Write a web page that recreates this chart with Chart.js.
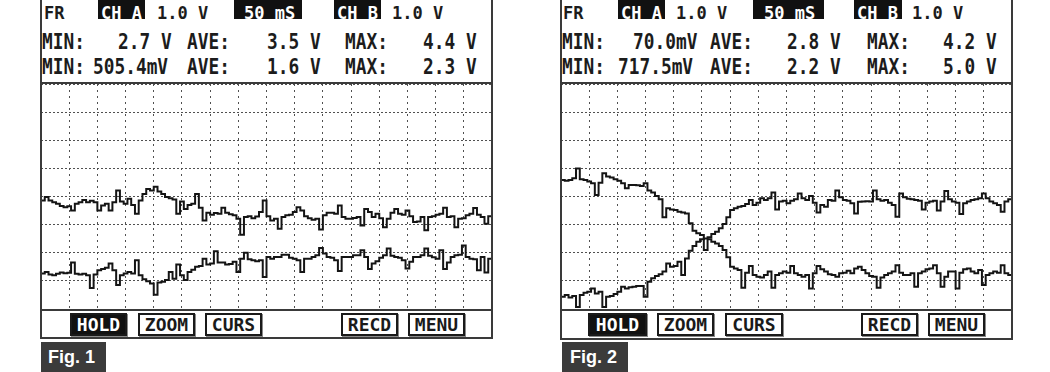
<!DOCTYPE html>
<html>
<head>
<meta charset="utf-8">
<script src="https://cdn.jsdelivr.net/npm/chart.js"></script>
<style>
  body { margin: 0; background: #fff; width: 1050px; height: 372px; position: relative; overflow: hidden; }
  canvas { position: absolute; }
  .ln { position: absolute; background: #3a3a3a; z-index: 2; }
  .t { position: absolute; white-space: pre; font-family: 'DejaVu Sans Mono', monospace; font-weight: bold; color: #1c1c1c; transform-origin: 0 0; }
  .r1 { font-size: 17px; line-height: 17px; top: 5px; }
  .r2 { font-size: 22px; line-height: 22px; top: 31px; transform: scaleX(.81); }
  .r3 { font-size: 22px; line-height: 22px; top: 56px; transform: scaleX(.81); }
  .w { color: #fff; }
  .box { position: absolute; top: 0; height: 19px; background: #111; }
  .btn { position: absolute; top: 313px; height: 23px; box-sizing: border-box; border: 2px solid #1a1a1a; box-shadow: 1px 1px 0 #8a8a8a;
         background: #fff; font-family: 'DejaVu Sans Mono', monospace; font-weight: bold; font-size: 18px; line-height: 19px; text-align: center; color: #1a1a1a; }
  .btn.on { background: #111; color: #fff; }
  .fig { position: absolute; top: 342px; height: 30px; background: #3b3b3b; }
  .fig span { position: absolute; top: 6px; font-family: 'Liberation Sans', Arial, sans-serif; font-weight: bold; font-size: 18px; line-height: 18px; color: #fff; }
</style>
</head>
<body>

<!-- Fig. 1 screen -->
<span class="t r1" style="left:44px">FR</span>
<div class="box" style="left:98px;width:47px"></div><span class="t r1 w" style="left:101px">CH A</span>
<span class="t r1" style="left:157px">1.0 V</span>
<div class="box" style="left:234px;width:68px"></div><span class="t r1 w" style="left:244px">50 mS</span>
<div class="box" style="left:334px;width:47px"></div><span class="t r1 w" style="left:337px">CH B</span>
<span class="t r1" style="left:392px">1.0 V</span>

<span class="t r2" style="left:42px">MIN:</span>
<span class="t r2" style="left:118px">2.7 V</span>
<span class="t r2" style="left:187px">AVE:</span>
<span class="t r2" style="left:267px">3.5 V</span>
<span class="t r2" style="left:345px">MAX:</span>
<span class="t r2" style="left:423px">4.4 V</span>

<span class="t r3" style="left:42px">MIN:</span>
<span class="t r3" style="left:93px">505.4mV</span>
<span class="t r3" style="left:187px">AVE:</span>
<span class="t r3" style="left:267px">1.6 V</span>
<span class="t r3" style="left:345px">MAX:</span>
<span class="t r3" style="left:423px">2.3 V</span>

<canvas id="scope1" width="451" height="225" style="left:41px;top:84px"></canvas>

<div class="ln" style="left:40px;top:0;width:2px;height:339px"></div>
<div class="ln" style="left:491px;top:0;width:2px;height:339px"></div>
<div class="ln" style="left:40px;top:82px;width:453px;height:2px"></div>
<div class="ln" style="left:40px;top:309px;width:453px;height:2px"></div>
<div class="ln" style="left:40px;top:337px;width:453px;height:2px"></div>

<div class="btn on" style="left:70px;width:57px">HOLD</div>
<div class="btn" style="left:138px;width:57px">ZOOM</div>
<div class="btn" style="left:205px;width:57px">CURS</div>
<div class="btn" style="left:341px;width:57px">RECD</div>
<div class="btn" style="left:408px;width:57px">MENU</div>

<div class="fig" style="left:41px;width:65px"><span style="left:7px">Fig. 1</span></div>

<!-- Fig. 2 screen -->
<span class="t r1" style="left:563px">FR</span>
<div class="box" style="left:618px;width:47px"></div><span class="t r1 w" style="left:621px">CH A</span>
<span class="t r1" style="left:676px">1.0 V</span>
<div class="box" style="left:753px;width:71px"></div><span class="t r1 w" style="left:764px">50 mS</span>
<div class="box" style="left:854px;width:48px"></div><span class="t r1 w" style="left:857px">CH B</span>
<span class="t r1" style="left:912px">1.0 V</span>

<span class="t r2" style="left:562px">MIN:</span>
<span class="t r2" style="left:633px">70.0mV</span>
<span class="t r2" style="left:710px">AVE:</span>
<span class="t r2" style="left:787px">2.8 V</span>
<span class="t r2" style="left:867px">MAX:</span>
<span class="t r2" style="left:943px">4.2 V</span>

<span class="t r3" style="left:562px">MIN:</span>
<span class="t r3" style="left:618px">717.5mV</span>
<span class="t r3" style="left:710px">AVE:</span>
<span class="t r3" style="left:787px">2.2 V</span>
<span class="t r3" style="left:867px">MAX:</span>
<span class="t r3" style="left:943px">5.0 V</span>

<canvas id="scope2" width="451" height="225" style="left:561px;top:84px"></canvas>

<div class="ln" style="left:560px;top:0;width:2px;height:340px"></div>
<div class="ln" style="left:1011px;top:0;width:2px;height:340px"></div>
<div class="ln" style="left:560px;top:82px;width:453px;height:2px"></div>
<div class="ln" style="left:560px;top:309px;width:453px;height:2px"></div>
<div class="ln" style="left:560px;top:338px;width:453px;height:2px"></div>

<div class="btn on" style="left:588px;width:59px">HOLD</div>
<div class="btn" style="left:657px;width:57px">ZOOM</div>
<div class="btn" style="left:725px;width:58px">CURS</div>
<div class="btn" style="left:861px;width:57px">RECD</div>
<div class="btn" style="left:928px;width:57px">MENU</div>

<div class="fig" style="left:562px;width:66px"><span style="left:8px">Fig. 2</span></div>

<script>
// time base: 50 ms/div, 16 divisions, 121 samples per trace
const sweepMs = 800
const divMs = 50
// vertical: 1.0 V/div, 8 divisions
const voltMax = 8

// Fig. 1 readings (V)
const fig1ChA = [
  3.86, 3.98, 3.86, 3.80, 3.74, 3.66, 3.62, 3.65, 3.50, 3.74,
  3.80, 3.88, 3.80, 3.85, 3.80, 3.50, 3.68, 3.74, 3.50, 3.80,
  4.21, 3.82, 3.74, 3.92, 3.70, 3.39, 3.86, 4.09, 4.27, 4.21,
  4.35, 4.18, 4.09, 3.98, 3.94, 3.89, 3.39, 3.82, 3.56, 3.70,
  3.74, 4.09, 3.60, 3.15, 3.42, 3.35, 3.41, 3.39, 3.60, 3.42,
  3.37, 3.33, 3.21, 2.64, 3.27, 3.30, 3.23, 3.29, 3.45, 3.86,
  3.30, 3.15, 3.21, 2.85, 3.27, 3.33, 3.35, 3.45, 3.62, 3.50,
  3.30, 3.23, 3.17, 3.21, 2.83, 3.33, 3.42, 3.42, 3.39, 3.68,
  3.27, 3.21, 3.21, 3.24, 3.27, 2.97, 3.56, 3.45, 3.27, 3.39,
  3.23, 2.91, 3.21, 3.42, 3.56, 3.39, 3.35, 3.50, 3.30, 3.09,
  3.11, 3.27, 2.80, 3.27, 3.30, 3.35, 3.39, 3.60, 3.27, 3.30,
  2.91, 3.21, 3.23, 3.33, 3.39, 3.59, 3.35, 3.27, 3.03, 3.30, 3.30
]
const fig1ChB = [
  1.26, 1.32, 1.23, 1.20, 1.25, 1.30, 1.27, 1.29, 1.65, 1.25,
  1.23, 1.25, 1.20, 0.75, 1.23, 1.38, 1.42, 1.47, 1.62, 1.38,
  0.85, 1.20, 1.26, 1.32, 1.26, 1.73, 1.20, 1.06, 0.99, 0.91,
  0.51, 0.94, 0.97, 1.03, 1.32, 1.08, 1.58, 1.20, 1.03, 1.32,
  1.40, 1.50, 1.53, 1.79, 1.58, 1.62, 2.05, 1.65, 1.65, 1.58,
  1.60, 1.68, 1.32, 1.79, 2.00, 1.77, 1.73, 1.70, 1.73, 1.14,
  1.85, 1.79, 1.85, 1.85, 1.93, 1.93, 1.82, 1.79, 1.73, 1.32,
  1.79, 1.79, 1.85, 1.91, 2.17, 1.97, 1.85, 1.82, 1.73, 1.35,
  1.85, 1.85, 1.85, 1.91, 1.91, 2.09, 1.85, 1.42, 1.62, 1.70,
  1.82, 1.91, 2.15, 1.89, 1.85, 1.82, 1.73, 1.44, 1.68, 1.85,
  1.85, 1.91, 2.15, 1.89, 1.84, 1.79, 2.09, 1.42, 1.65, 1.85,
  1.91, 1.93, 2.26, 1.85, 1.79, 1.77, 1.38, 1.85, 1.30, 1.79, 1.82
]

// Fig. 2 readings (V)
const fig2ChA = [
  0.44, 0.50, 0.41, 0.46, 0.07, 0.50, 0.58, 0.61, 0.73, 0.55,
  0.61, 0.07, 0.44, 0.46, 0.53, 0.61, 0.79, 0.73, 0.77, 0.79,
  0.82, 0.82, 0.44, 0.97, 1.09, 1.17, 1.24, 1.33, 1.62, 1.50,
  1.53, 1.68, 1.21, 1.80, 2.07, 2.24, 2.39, 2.48, 2.51, 2.55,
  2.67, 2.75, 2.87, 3.02, 3.26, 3.52, 3.58, 3.64, 3.66, 3.73,
  3.88, 3.70, 3.78, 3.94, 3.88, 3.94, 4.14, 3.54, 3.82, 3.85,
  3.76, 3.85, 3.90, 4.11, 3.94, 3.88, 4.02, 3.78, 3.43, 3.70,
  3.64, 3.88, 3.85, 4.21, 3.97, 3.88, 3.85, 3.76, 3.40, 3.81,
  3.82, 3.83, 3.82, 4.21, 3.90, 3.85, 3.88, 3.78, 3.70, 3.28,
  4.11, 3.97, 3.92, 3.90, 3.88, 3.85, 3.54, 3.78, 3.82, 3.85,
  3.50, 3.82, 4.20, 3.90, 3.82, 3.78, 3.38, 3.76, 3.82, 3.88,
  3.90, 3.94, 4.11, 3.94, 3.82, 3.76, 3.70, 3.46, 3.82, 3.90, 4.02
]
const fig2ChB = [
  4.59, 4.56, 4.59, 4.65, 5.00, 4.61, 4.59, 4.53, 4.47, 4.05,
  4.49, 4.83, 4.71, 4.68, 4.61, 4.56, 4.47, 4.29, 4.41, 4.41,
  4.40, 4.37, 4.47, 4.21, 4.14, 4.02, 3.90, 3.26, 3.58, 3.54,
  3.52, 3.46, 3.43, 3.40, 3.05, 2.78, 2.69, 2.63, 2.10, 2.48,
  2.39, 2.33, 2.24, 2.10, 1.84, 1.50, 1.44, 1.39, 0.76, 1.29,
  1.53, 1.21, 1.15, 1.12, 1.21, 1.33, 0.76, 1.21, 1.27, 1.33,
  1.29, 1.53, 1.27, 1.21, 1.15, 1.21, 0.73, 1.27, 1.53, 1.41,
  1.33, 1.24, 1.21, 1.15, 1.27, 1.29, 1.36, 1.27, 1.44, 1.50,
  1.39, 1.27, 1.17, 1.15, 0.76, 1.12, 1.21, 1.27, 1.33, 1.56,
  1.29, 1.21, 1.21, 1.27, 0.79, 1.27, 1.33, 1.41, 1.44, 1.56,
  1.27, 0.79, 1.15, 1.33, 1.33, 0.73, 1.29, 1.41, 1.44, 1.33,
  1.27, 1.39, 0.85, 1.21, 1.27, 1.33, 1.29, 1.56, 1.27, 1.21, 1.27
]

function trace(values) {
  const step = sweepMs / (values.length - 1)
  return {
    data: values.map((v, i) => ({ x: i * step, y: v })),
    borderColor: '#141414',
    borderWidth: 2,
    stepped: true,
    pointRadius: 0,
    borderJoinStyle: 'miter',
    fill: false
  }
}

function scope(id, chA, chB) {
  return new Chart(document.getElementById(id), {
    type: 'line',
    data: { datasets: [trace(chA), trace(chB)] },
    options: {
      responsive: false,
      animation: false,
      devicePixelRatio: 1,
      layout: { padding: 0 },
      plugins: { legend: { display: false }, tooltip: { enabled: false } },
      scales: {
        x: {
          type: 'linear', min: 0, max: sweepMs,
          ticks: { display: false, stepSize: divMs },
          grid: { color: '#505050', lineWidth: 1, drawTicks: false },
          border: { display: false, dash: [2, 4] },
          afterFit: s => { s.height = 0 }
        },
        y: {
          min: 0, max: voltMax,
          ticks: { display: false, stepSize: 1 },
          grid: { color: '#505050', lineWidth: 1, drawTicks: false },
          border: { display: false, dash: [2, 2] },
          afterFit: s => { s.width = 0 }
        }
      }
    }
  })
}

scope('scope1', fig1ChA, fig1ChB)
scope('scope2', fig2ChA, fig2ChB)
</script>
</body>
</html>
